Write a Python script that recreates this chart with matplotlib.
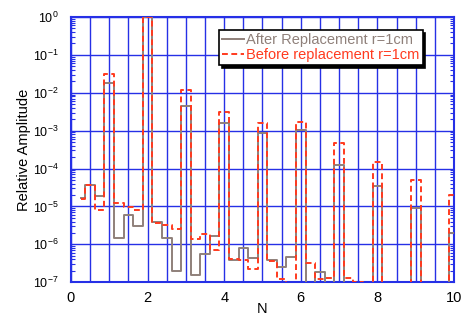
import matplotlib
matplotlib.use("Agg")
import matplotlib.pyplot as plt
from matplotlib.ticker import MultipleLocator, LogLocator

plt.rcParams["font.family"] = ["Liberation Sans", "DejaVu Sans"]
plt.rcParams["mathtext.default"] = "regular"

# harmonic number N (0.25 steps)
N = [0.25, 0.5, 0.75, 1.0, 1.25, 1.5, 1.75, 2.0, 2.25, 2.5,
     2.75, 3.0, 3.25, 3.5, 3.75, 4.0, 4.25, 4.5, 4.75, 5.0,
     5.25, 5.5, 5.75, 6.0, 6.25, 6.5, 6.75, 7.0, 7.25, 7.5,
     7.75, 8.0, 8.25, 8.5, 8.75, 9.0, 9.25, 9.5, 9.75, 10.0]

# values below 1e-7 are off the bottom of the plot
after = [1.7e-5, 3.8e-5, 1.9e-5, 1.8e-2, 1.5e-6, 6.0e-6, 3.0e-6, 1.0, 4.0e-6, 1.45e-6,
         2.0e-7, 4.6e-3, 1.6e-7, 5.6e-7, 1.7e-6, 1.6e-3, 3.9e-7, 8.0e-7, 4.3e-7, 8.5e-4,
         3.9e-7, 2.6e-7, 4.6e-7, 1.05e-3, 5e-8, 1.9e-7, 5e-8, 1.26e-4, 5e-8, 5e-8,
         5e-8, 3.5e-5, 5e-8, 5e-8, 5e-8, 9.3e-6, 5e-8, 5e-8, 5e-8, 1.95e-6]

before = [1.55e-5, 3.8e-5, 8.1e-6, 3.2e-2, 1.2e-5, 9.5e-6, 8.1e-6, 1.0, 3.6e-6, 3.3e-6,
          2.6e-6, 1.2e-2, 1.35e-6, 1.9e-6, 7.0e-7, 3.2e-3, 4.0e-7, 3.9e-7, 2.3e-7, 1.6e-3,
          3.6e-7, 1.2e-7, 5e-8, 1.7e-3, 3.2e-7, 1.25e-7, 1.27e-7, 4.7e-4, 1.27e-7, 1.04e-7,
          5e-8, 1.5e-4, 5e-8, 5e-8, 5e-8, 5.0e-5, 5e-8, 5e-8, 5e-8, 2.0e-5]

after_label = "After Replacement r=1cm"
before_label = "Before replacement r=1cm"

solid_col = "#8f807a"
dash_col = "#ff3a1e"
grid_col = "#2630e6"

fig = plt.figure(figsize=(4.63, 3.17), dpi=100)
ax = fig.add_axes([0.1533, 0.1095, 0.8273, 0.837])

ax.step(N, after, where="mid", color=solid_col, lw=1.4, label=after_label, zorder=3)
ax.step(N, before, where="mid", color=dash_col, lw=1.4, ls=(0, (3, 1.8)),
        label=before_label, zorder=4)

ax.set_yscale("log")
ax.set_xlim(0, 10)
ax.set_ylim(1e-7, 1)

ax.xaxis.set_major_locator(MultipleLocator(2))
ax.xaxis.set_minor_locator(MultipleLocator(0.5))
ax.yaxis.set_minor_locator(LogLocator(base=10, subs=range(2, 10), numticks=20))
ax.set_yticks([10.0 ** e for e in range(-7, 1)])
ax.set_yticklabels([f"$10^{{{e}}}$" for e in range(-7, 1)])

ax.grid(True, which="major", color=grid_col, lw=1.0, zorder=1)
ax.grid(True, which="minor", axis="x", color=grid_col, lw=1.0, zorder=1)
ax.set_axisbelow(True)

ax.tick_params(which="both", direction="in", color=grid_col, right=True)
ax.tick_params(axis="x", which="both", length=0, labelsize=10.5, pad=6)
ax.tick_params(axis="y", which="major", length=0, labelsize=9, pad=9)
ax.tick_params(axis="y", which="minor", length=3, width=0.8)
for sp in ax.spines.values():
    sp.set_color(grid_col)
    sp.set_linewidth(1.5)

ax.set_xlabel("N", fontsize=10.5, labelpad=-2)
ax.set_ylabel("Relative Amplitude", fontsize=10.5, labelpad=1)

leg = ax.legend(loc="upper right", bbox_to_anchor=(0.918, 0.951), borderaxespad=0,
                fontsize=10.5, fancybox=False, framealpha=1, edgecolor="black",
                handlelength=1.5, handletextpad=0.12, borderpad=0.22,
                labelspacing=0.05, shadow={"color": "black", "alpha": 1})
leg.get_frame().set_linewidth(1.2)
leg.get_texts()[0].set_color(solid_col)
leg.get_texts()[1].set_color(dash_col)
leg.set_zorder(10)

fig.savefig("out.png", dpi=100)
